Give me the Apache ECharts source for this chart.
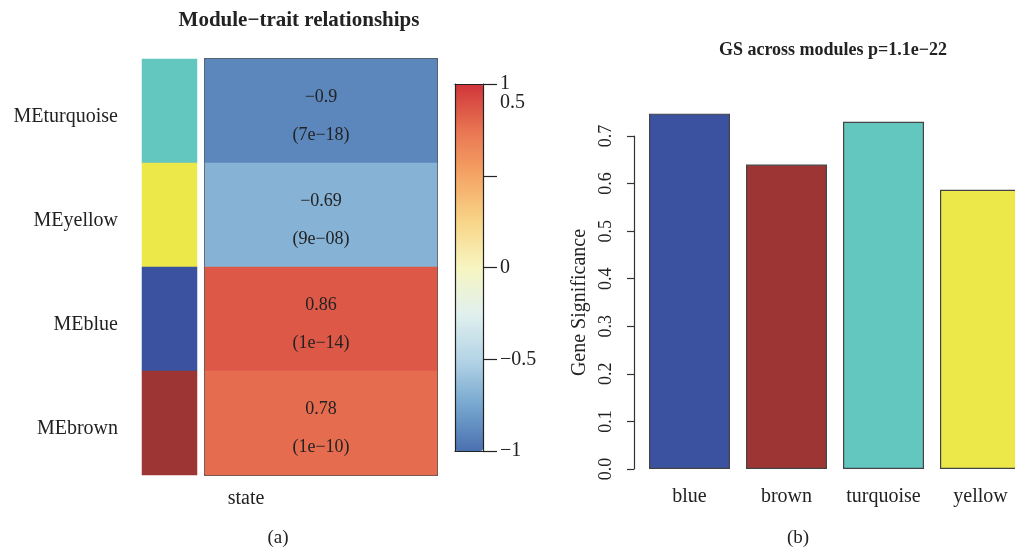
<!DOCTYPE html>
<html>
<head>
<meta charset="utf-8">
<script src="https://cdn.jsdelivr.net/npm/echarts@6/dist/echarts.min.js"></script>
<style>
  html, body { margin: 0; padding: 0; background: #fff; }
  #chart { width: 1015px; height: 548px; }
</style>
</head>
<body>
<div id="chart"></div>
<script>
// Module eigengene vs. trait correlations
const modules = ['MEturquoise', 'MEyellow', 'MEblue', 'MEbrown'];
const traits = ['state'];
const correlations = [-0.9, -0.69, 0.86, 0.78];
const pValues = ['7e\u221218', '9e\u221208', '1e\u221214', '1e\u221210'];

// Mean gene significance per module
const gsModules = ['blue', 'brown', 'turquoise', 'yellow'];
const gsValues = [0.747, 0.640, 0.730, 0.587];

// Colour-bar tick values
const scaleTicks = [-1, -0.5, 0, 0.5, 1];

// Colours
const moduleColor = {
  turquoise: '#63c6bf', yellow: '#ece84a', blue: '#3a52a0', brown: '#9d3535'
};
const rampColors = ['#4a71b0', '#76a7cf', '#b5d5e6', '#e1f0ee', '#f7f5c0',
                    '#f8d588', '#f5a565', '#e87452', '#d0353a'];

const FONT = 'Liberation Serif';
const INK = '#222';
const minus = v => String(v).replace('-', '\u2212');

const chart = echarts.init(document.getElementById('chart'), null, { renderer: 'canvas' });

const swatchData = modules.map((m, i) => ({
  value: [0, i, 1],
  itemStyle: { color: moduleColor[m.replace('ME', '')] }
}));
const corrData = correlations.map((c, i) => [0, i, c]);

const hiddenCat = (data, grid, extra) => Object.assign({
  type: 'category', data: data, gridIndex: grid,
  axisLabel: { show: false }, axisTick: { show: false },
  axisLine: { show: false }, splitLine: { show: false }
}, extra || {});
const frameLine = { show: true, onZero: false, lineStyle: { color: '#222', width: 1.5 } };
const barEdge = { show: true, onZero: false, lineStyle: { color: '#222', width: 1.2 } };

chart.setOption({
  animation: false,
  textStyle: { fontFamily: FONT, color: INK },
  title: [
    { text: 'Module\u2212trait relationships', left: 294, top: 5, textAlign: 'center',
      textStyle: { fontFamily: FONT, fontSize: 21, fontWeight: 'bold', color: INK } },
    { text: 'GS across modules p=1.1e\u221222', left: 828, top: 36, textAlign: 'center',
      textStyle: { fontFamily: FONT, fontSize: 18, fontWeight: 'bold', color: INK } },
    { text: '(a)', left: 273, top: 524, textAlign: 'center',
      textStyle: { fontFamily: FONT, fontSize: 19, fontWeight: 'normal', color: INK } },
    { text: '(b)', left: 793, top: 524, textAlign: 'center',
      textStyle: { fontFamily: FONT, fontSize: 19, fontWeight: 'normal', color: INK } }
  ],
  grid: [
    { left: 142, top: 59, width: 55, height: 416, outerBoundsMode: 'none' },   // module swatches
    { left: 205, top: 59, width: 232, height: 416, outerBoundsMode: 'none' },  // correlation heatmap
    { left: 455, top: 84, width: 28, height: 367, outerBoundsMode: 'none' },   // colour bar
    { left: 641, width: 388, top: 136, bottom: 79, outerBoundsMode: 'none' }   // GS bars
  ],
  xAxis: [
    hiddenCat(traits, 0),
    hiddenCat(traits, 1, {
      position: 'bottom', axisLine: frameLine,
      axisLabel: { show: true, fontFamily: FONT, fontSize: 20, color: INK, margin: 14,
                   align: 'center', padding: [0, 150, 0, 0] }
    }),
    hiddenCat(traits, 1, { position: 'top', axisLine: frameLine }),
    { type: 'value', gridIndex: 2, min: 0, max: 1, position: 'bottom', z: 10,
      axisLine: barEdge, axisTick: { show: false }, axisLabel: { show: false },
      splitLine: { show: false } },
    { type: 'value', gridIndex: 2, min: 0, max: 1, position: 'top', z: 10,
      axisLine: barEdge, axisTick: { show: false }, axisLabel: { show: false },
      splitLine: { show: false } },
    { type: 'category', gridIndex: 3, data: gsModules,
      axisLine: { show: false }, axisTick: { show: false },
      axisLabel: { interval: 0, fontFamily: FONT, fontSize: 20, color: INK, margin: 18 } }
  ],
  yAxis: [
    { type: 'category', gridIndex: 0, data: modules, inverse: true,
      axisLine: { show: false }, axisTick: { show: false },
      axisLabel: { fontFamily: FONT, fontSize: 20, color: INK, margin: 24,
                   verticalAlign: 'top', lineHeight: 12 } },
    hiddenCat(modules, 1, { inverse: true, position: 'left', axisLine: frameLine }),
    hiddenCat(modules, 1, { inverse: true, position: 'right', axisLine: frameLine }),
    { type: 'value', gridIndex: 2, position: 'right', min: scaleTicks[0],
      max: scaleTicks[scaleTicks.length - 1], interval: 0.5, z: 10,
      axisLine: barEdge,
      axisTick: { show: true, inside: false, length: 14, lineStyle: { color: '#222', width: 1.2 } },
      splitLine: { show: false },
      axisLabel: {
        showMinLabel: true, showMaxLabel: true, margin: 17, lineHeight: 19,
        fontFamily: FONT, fontSize: 20, color: INK, padding: [2, 0, 0, 0],
        formatter: v => v === 1 ? ' \n1\n0.5' : (v === 0.5 ? '' : minus(v))
      } },
    { type: 'value', gridIndex: 2, position: 'left', min: -1, max: 1, z: 10,
      axisLine: barEdge, axisTick: { show: false }, axisLabel: { show: false },
      splitLine: { show: false } },
    { type: 'value', gridIndex: 3, min: 0, max: 0.7, interval: 0.1, offset: 7,
      name: 'Gene Significance', nameLocation: 'middle', nameGap: 44, nameRotate: 90,
      nameTextStyle: { fontFamily: FONT, fontSize: 20, color: INK },
      axisLine: { show: true, onZero: false, lineStyle: { color: '#333', width: 1.2 } },
      axisTick: { show: true, length: 7, lineStyle: { color: '#333', width: 1.2 } },
      splitLine: { show: false },
      axisLabel: { rotate: 90, margin: 19, fontFamily: FONT, fontSize: 18, color: INK,
                   showMinLabel: true, showMaxLabel: true,
                   formatter: v => v.toFixed(1) } }
  ],
  visualMap: {
    type: 'continuous', seriesIndex: 1, dimension: 2,
    min: -1, max: 1, calculable: false, realtime: false,
    orient: 'vertical', left: 455, top: 84, itemWidth: 28, itemHeight: 367,
    padding: 0, text: null, showLabel: false, hoverLink: false,
    inRange: { color: rampColors }
  },
  series: [
    { type: 'heatmap', xAxisIndex: 0, yAxisIndex: 0, data: swatchData, silent: true },
    { type: 'heatmap', xAxisIndex: 1, yAxisIndex: 1, data: corrData, silent: true, z: 1,
      label: {
        show: true, fontFamily: FONT, fontSize: 18, color: INK, lineHeight: 38,
        offset: [0, 5],
        formatter: p => minus(correlations[p.data[1]]) + '\n(' + pValues[p.data[1]] + ')'
      } },
    { type: 'bar', xAxisIndex: 5, yAxisIndex: 5, data: gsValues, barWidth: '83.5%',
      clip: false, silent: true,
      itemStyle: { color: p => moduleColor[gsModules[p.dataIndex]],
                   borderColor: '#444', borderWidth: 1.2 } }
  ]
});
</script>
</body>
</html>
